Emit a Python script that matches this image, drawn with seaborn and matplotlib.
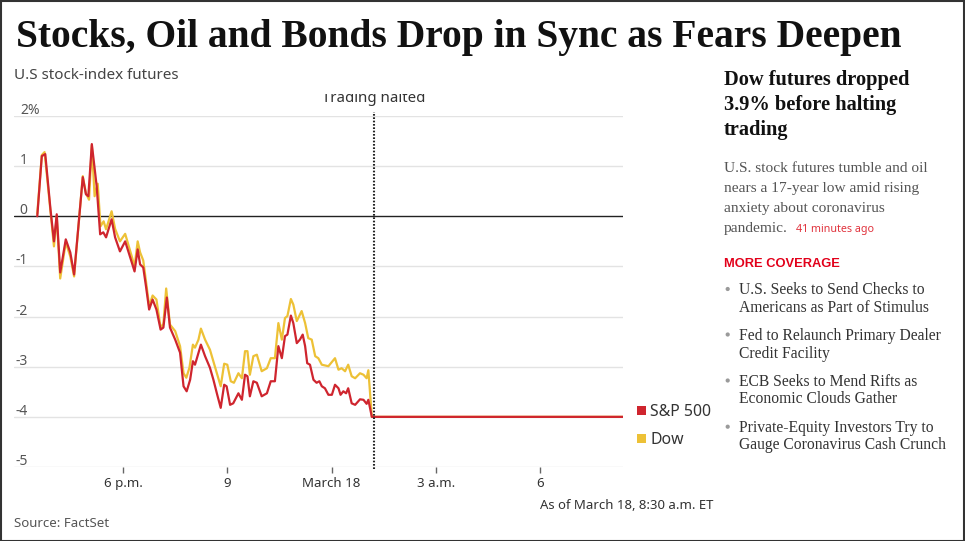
import matplotlib
matplotlib.use("Agg")
import matplotlib.pyplot as plt
import matplotlib.transforms as mtransforms
from matplotlib.patches import Rectangle, Ellipse
import numpy as np
import pandas as pd
import seaborn as sns

# ---------------- data (hours relative to midnight, March 18) ----------------
sp_time = [-8.47, -8.34, -8.24, -8.09, -7.99, -7.91, -7.81, -7.65, -7.52, -7.41,
           -7.16, -7.07, -7.00, -6.90, -6.76, -6.66, -6.57, -6.49, -6.33, -6.23,
           -6.09, -5.94, -5.75, -5.67, -5.58, -5.51, -5.42, -5.34, -5.25, -5.15,
           -5.04, -4.92, -4.84, -4.74, -4.65, -4.50, -4.36, -4.26, -4.17, -4.07,
           -3.99, -3.93, -3.76, -3.64, -3.50, -3.40, -3.29, -3.19, -3.09, -3.02,
           -2.92, -2.83, -2.68, -2.58, -2.49, -2.42, -2.35, -2.25, -2.15, -2.01,
           -1.86, -1.75, -1.63, -1.53, -1.43, -1.34, -1.27, -1.17, -1.10, -1.00,
           -0.91, -0.83, -0.76, -0.70, -0.62, -0.52, -0.43, -0.35, -0.28, -0.19,
           -0.09, 0.01, 0.10, 0.20, 0.26, 0.34, 0.42, 0.48, 0.58, 0.68,
           0.82, 0.92, 1.01, 1.06, 1.16, 8.39]
sp_values = [0.0, 1.2, 1.24, 0.14, -0.5, 0.04, -1.12, -0.46, -0.72, -1.16,
             0.78, 0.44, 0.4, 1.44, 0.6, -0.36, -0.32, -0.42, -0.06, -0.42,
             -0.7, -0.5, -0.92, -1.1, -0.66, -0.96, -1.02, -1.4, -1.86, -1.66,
             -1.86, -2.26, -2.22, -1.62, -2.22, -2.46, -2.72, -3.39, -3.49, -3.26,
             -2.89, -2.96, -2.56, -2.79, -3.02, -3.26, -3.56, -3.82, -3.36, -3.39,
             -3.76, -3.73, -3.53, -3.66, -3.16, -3.19, -3.59, -3.29, -3.32, -3.59,
             -3.53, -3.29, -3.29, -2.59, -2.83, -2.39, -2.36, -1.98, -2.13, -2.53,
             -2.46, -2.36, -2.59, -2.93, -2.96, -3.26, -3.32, -3.29, -3.39, -3.43,
             -3.56, -3.56, -3.36, -3.43, -3.56, -3.49, -3.53, -3.43, -3.73, -3.76,
             -3.65, -3.66, -3.74, -3.66, -4.0, -4.0]

dow_time = [-8.47, -8.34, -8.26, -8.09, -7.99, -7.91, -7.81, -7.65, -7.52, -7.41,
            -7.16, -7.07, -6.98, -6.90, -6.82, -6.73, -6.65, -6.56, -6.49, -6.33,
            -6.23, -6.09, -5.94, -5.75, -5.67, -5.58, -5.51, -5.42, -5.34, -5.25,
            -5.15, -5.04, -4.92, -4.84, -4.76, -4.65, -4.50, -4.36, -4.26, -4.18,
            -4.09, -3.99, -3.93, -3.83, -3.76, -3.64, -3.50, -3.36, -3.19, -3.09,
            -3.00, -2.90, -2.81, -2.68, -2.58, -2.49, -2.42, -2.35, -2.25, -2.15,
            -2.01, -1.86, -1.75, -1.63, -1.53, -1.43, -1.34, -1.27, -1.17, -1.10,
            -1.00, -0.86, -0.76, -0.67, -0.57, -0.47, -0.38, -0.28, -0.09, 0.10,
            0.20, 0.29, 0.39, 0.48, 0.58, 0.68, 0.82, 0.92, 1.01, 1.06,
            1.16, 8.39]
dow_values = [0.05, 1.22, 1.28, 0.1, -0.6, 0.0, -1.24, -0.52, -0.8, -1.2,
              0.8, 0.46, 0.33, 1.42, 0.4, 0.65, -0.2, -0.1, -0.26, 0.1,
              -0.25, -0.5, -0.35, -0.8, -1.0, -0.5, -0.72, -0.88, -1.3, -1.79,
              -1.58, -1.66, -2.22, -2.15, -1.44, -2.16, -2.29, -2.59, -3.13, -3.22,
              -3.02, -2.56, -2.62, -2.46, -2.24, -2.46, -2.66, -2.99, -3.39, -2.94,
              -2.96, -3.29, -3.32, -3.13, -3.23, -2.69, -2.69, -3.16, -2.79, -2.76,
              -3.09, -3.03, -2.83, -2.83, -2.13, -2.46, -2.03, -1.99, -1.65, -1.76,
              -2.09, -1.89, -2.13, -2.43, -2.46, -2.79, -2.83, -2.96, -2.99, -2.83,
              -3.06, -3.03, -3.09, -2.96, -3.19, -3.23, -3.13, -3.16, -3.23, -3.07,
              -4.0, -4.0]

series_names = ["S&P 500", "Dow"]
series_colors = {"S&P 500": "#cf252e", "Dow": "#edc136"}
halt_time = 1.22
x_ticks = [-6, -3, 0, 3, 6]
x_tick_labels = ["6 p.m.", "9", "March 18", "3 a.m.", "6"]
y_ticks = [2, 1, 0, -1, -2, -3, -4, -5]
y_tick_labels = ["2%", "1", "0", "-1", "-2", "-3", "-4", "-5"]

title = "Stocks, Oil and Bonds Drop in Sync as Fears Deepen"
subtitle = "U.S stock-index futures"
halt_label = "Trading halted"
headline = ["Dow futures dropped", "3.9% before halting", "trading"]
body = ["U.S. stock futures tumble and oil", "nears a 17-year low amid rising",
        "anxiety about coronavirus", "pandemic."]
timestamp = "41 minutes ago"
more_label = "MORE COVERAGE"
coverage = [["U.S. Seeks to Send Checks to", "Americans as Part of Stimulus"],
            ["Fed to Relaunch Primary Dealer", "Credit Facility"],
            ["ECB Seeks to Mend Rifts as", "Economic Clouds Gather"],
            ["Private-Equity Investors Try to", "Gauge Coronavirus Cash Crunch"]]
as_of = "As of March 18, 8:30 a.m. ET"
source = "Source: FactSet"

# ---------------- figure setup ----------------
sns.set_theme(style="white")
SANS = ["Noto Sans", "DejaVu Sans"]
SANS_BOLD = ["Liberation Sans", "DejaVu Sans"]
SERIF = ["Liberation Serif", "DejaVu Serif"]
plt.rcParams["font.family"] = SANS

W, H = 965, 541
fig = plt.figure(figsize=(W / 100, H / 100), dpi=100)
fig.patch.set_facecolor("white")
renderer = fig.canvas.get_renderer()


def fx(px):
    return px / W


def fy(py):
    return 1 - py / H


def fit_size(text, target_px, base=10, **kw):
    t = fig.text(0, 0, text, fontsize=base, **kw)
    w = t.get_window_extent(renderer).width
    t.remove()
    return base * target_px / w


ax_l, ax_r, ax_t, ax_b = 14, 623, 116, 467
ax = fig.add_axes([fx(ax_l), fy(ax_b), (ax_r - ax_l) / W, (ax_b - ax_t) / H])

df = pd.concat([
    pd.DataFrame({"time": dow_time, "value": dow_values, "series": "Dow"}),
    pd.DataFrame({"time": sp_time, "value": sp_values, "series": "S&P 500"}),
])
sns.lineplot(data=df, x="time", y="value", hue="series",
             hue_order=["Dow", "S&P 500"], palette=series_colors,
             sort=False, estimator=None, legend=False, linewidth=1.6, ax=ax,
             zorder=3)

ax.set_xlim(-9.14, 8.39)
ax.set_ylim(-5, 2)
for s in ax.spines.values():
    s.set_visible(False)
for v in y_ticks:
    if v == 0:
        ax.axhline(v, color="#222222", lw=1.0, zorder=2)
    else:
        ax.axhline(v, color="#e3e3e3", lw=1.0, zorder=1)

ax.set_xlabel("")
ax.set_ylabel("")
ax.set_yticks([])
tick_size = fit_size("March 18", 58, family=SANS)
ax.set_xticks(x_ticks)
ax.set_xticklabels(x_tick_labels, fontsize=tick_size, color="#333333")
ax.tick_params(axis="x", bottom=True, length=4, width=1, color="#666666",
               direction="out", pad=3)

# y labels sitting above gridlines
ylab_size = tick_size * 1.05
trans = mtransforms.blended_transform_factory(ax.transAxes, ax.transData)
for v, lab in zip(y_ticks, y_tick_labels):
    if lab.endswith("%"):
        ax.text((20.7 - ax_l) / (ax_r - ax_l), v + 0.04, lab, transform=trans,
                ha="left", va="baseline", fontsize=ylab_size, color="#555555")
    else:
        ax.text((27.5 - ax_l) / (ax_r - ax_l), v + 0.04, lab, transform=trans,
                ha="right", va="baseline", fontsize=ylab_size, color="#555555")

# halt line
ax.axvline(halt_time, ymin=-0.005, ymax=1.01, color="#222222", lw=1.5,
           linestyle=(0, (0.8, 0.8)), clip_on=False, zorder=4)
halt_size = fit_size(halt_label, 103, family=SANS)
ax.text(halt_time, 1 + (116 - 102) / (ax_b - ax_t), halt_label,
        transform=mtransforms.blended_transform_factory(ax.transData, ax.transAxes),
        ha="center", va="baseline", fontsize=halt_size, color="#333333")
fig.add_artist(Rectangle((fx(310), fy(93.5)), 130 / W, 12 / H,
                         transform=fig.transFigure, facecolor="white",
                         edgecolor="none", zorder=10))

# legend
leg_size = fit_size("S&P 500", 61, family=SANS)
for name, yc in zip(series_names, [410.5, 438.5]):
    fig.add_artist(Rectangle((fx(636.5), fy(yc + 4.5)), 9 / W, 9 / H,
                             transform=fig.transFigure,
                             facecolor=series_colors[name], edgecolor="none"))
    fig.text(fx(650), fy(yc), name, ha="left", va="center_baseline",
             fontsize=leg_size, color="#333333")

# title & subtitle
title_size = fit_size(title, 887, family=SERIF, fontweight="bold")
fig.text(fx(16), fy(46.7), title, ha="left", va="baseline", family=SERIF,
         fontweight="bold", fontsize=title_size, color="#111111")
sub_size = fit_size(subtitle, 165, family=SANS)
fig.text(fx(14), fy(79), subtitle, ha="left", va="baseline",
         fontsize=sub_size, color="#444444")

# right panel
hl_size = fit_size(headline[0], 186, family=SERIF, fontweight="bold")
for line, yb in zip(headline, [85, 110, 134.5]):
    fig.text(fx(724), fy(yb), line, ha="left", va="baseline", family=SERIF,
             fontweight="bold", fontsize=hl_size, color="#111111")

body_size = fit_size(body[0], 203, family=SERIF)
for line, yb in zip(body, [171.7, 191.7, 211.7, 231.7]):
    fig.text(fx(724), fy(yb), line, ha="left", va="baseline", family=SERIF,
             fontsize=body_size, color="#555555")
ts_size = fit_size(timestamp, 78, family=SANS)
fig.text(fx(796), fy(231.7), timestamp, ha="left", va="baseline",
         fontsize=ts_size, color="#e0323c")

more_size = fit_size(more_label, 116, family=SANS_BOLD, fontweight="bold")
fig.text(fx(724), fy(266.7), more_label, ha="left", va="baseline",
         family=SANS_BOLD, fontsize=more_size, fontweight="bold", color="#e2001a")

cov_size = fit_size(coverage[3][1], 207, family=SERIF)
for item, (yb1, yb2, ybul) in zip(coverage, [(294, 311.7, 289), (340, 357.7, 334.5),
                                             (386, 403.3, 380.5), (431.7, 449.3, 426.7)]):
    fig.add_artist(Ellipse((fx(727.7), fy(ybul)), 4.2 / W, 4.2 / H,
                           transform=fig.transFigure,
                           facecolor="#9a9a9a", edgecolor="none"))
    for line, yb in zip(item, [yb1, yb2]):
        fig.text(fx(739), fy(yb), line, ha="left", va="baseline", family=SERIF,
                 fontsize=cov_size, color="#333333")

# footer
asof_size = fit_size(as_of, 173, family=SANS)
fig.text(fx(713), fy(509), as_of, ha="right", va="baseline",
         fontsize=asof_size, color="#333333")
src_size = fit_size(source, 95, family=SANS)
fig.text(fx(14), fy(527), source, ha="left", va="baseline",
         fontsize=src_size, color="#555555")

# outer frame
fig.add_artist(Rectangle((0.5 / W, 0.5 / H), (W - 1.5) / W, (H - 1.5) / H,
                         transform=fig.transFigure, facecolor="none",
                         edgecolor="#333333", lw=1.5, zorder=20))

fig.savefig("out.png", dpi=100, facecolor="white")
